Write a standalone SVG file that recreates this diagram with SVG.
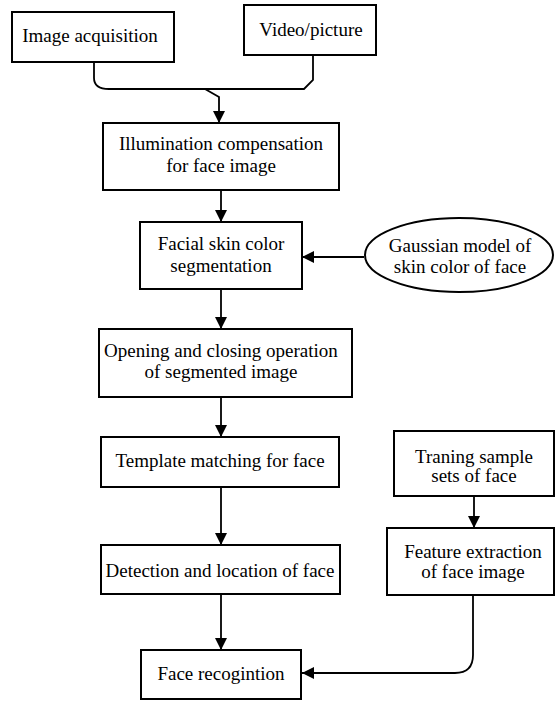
<svg xmlns="http://www.w3.org/2000/svg" width="555" height="701" viewBox="0 0 555 701">
<defs>
<marker id="arr" markerUnits="userSpaceOnUse" markerWidth="12" markerHeight="12" refX="12" refY="6" orient="auto">
<path d="M0,0 L12,6 L0,12 z" fill="#000"/>
</marker>
<style>
.box{fill:#fff;stroke:#000;stroke-width:2}
.t{font-family:"Liberation Serif","Times New Roman",serif;font-size:19px;fill:#000;text-anchor:middle}
.c{fill:none;stroke:#000;stroke-width:1.8}
</style>
</defs>
<rect width="555" height="701" fill="#fff"/>
<g id="connectors">
<path class="c" d="M94,62 V78 Q94,89 109,89 H304 L313,80 V55"/>
<path class="c" d="M205,89 L219,97 V123" marker-end="url(#arr)"/>
<path class="c" d="M221,190 V222" marker-end="url(#arr)"/>
<path class="c" d="M364,257 H302" marker-end="url(#arr)"/>
<path class="c" d="M221,289 V329" marker-end="url(#arr)"/>
<path class="c" d="M221,397 V437" marker-end="url(#arr)"/>
<path class="c" d="M221,487 V545" marker-end="url(#arr)"/>
<path class="c" d="M221,594 V650" marker-end="url(#arr)"/>
<path class="c" d="M474,496 V528" marker-end="url(#arr)"/>
<path class="c" d="M473,595 V655 Q473,673 455,673 H302" marker-end="url(#arr)"/>
</g>
<g id="n1"><rect class="box" x="12" y="12" width="162" height="50"/><text class="t" x="90" y="42">Image acquisition</text></g>
<g id="n2"><rect class="box" x="244" y="5" width="132" height="50"/><text class="t" x="311" y="36">Video/picture</text></g>
<g id="n3"><rect class="box" x="103" y="123" width="236" height="67"/><text class="t" x="221" y="150">Illumination compensation</text><text class="t" x="221" y="172">for face image</text></g>
<g id="n4"><rect class="box" x="140" y="222" width="162" height="67"/><text class="t" x="221" y="250">Facial skin color</text><text class="t" x="221" y="272">segmentation</text></g>
<g id="n5"><ellipse class="box" cx="459" cy="255" rx="94" ry="37"/><text class="t" x="460" y="252">Gaussian model of</text><text class="t" x="460" y="273">skin color of face</text></g>
<g id="n6"><rect class="box" x="99" y="329" width="253" height="68"/><text class="t" x="221" y="357">Opening and closing operation</text><text class="t" x="221" y="378">of segmented image</text></g>
<g id="n7"><rect class="box" x="101" y="437" width="238" height="50"/><text class="t" x="220" y="467">Template matching for face</text></g>
<g id="n8"><rect class="box" x="101" y="545" width="239" height="49"/><text class="t" x="220" y="577">Detection and location of face</text></g>
<g id="n9"><rect class="box" x="141" y="650" width="160" height="49"/><text class="t" x="221" y="680">Face recogintion</text></g>
<g id="n10"><rect class="box" x="394" y="431" width="160" height="65"/><text class="t" x="474" y="463">Traning sample</text><text class="t" x="474" y="482">sets of face</text></g>
<g id="n11"><rect class="box" x="387" y="528" width="167" height="67"/><text class="t" x="473" y="558">Feature extraction</text><text class="t" x="473" y="578">of face image</text></g>
</svg>
